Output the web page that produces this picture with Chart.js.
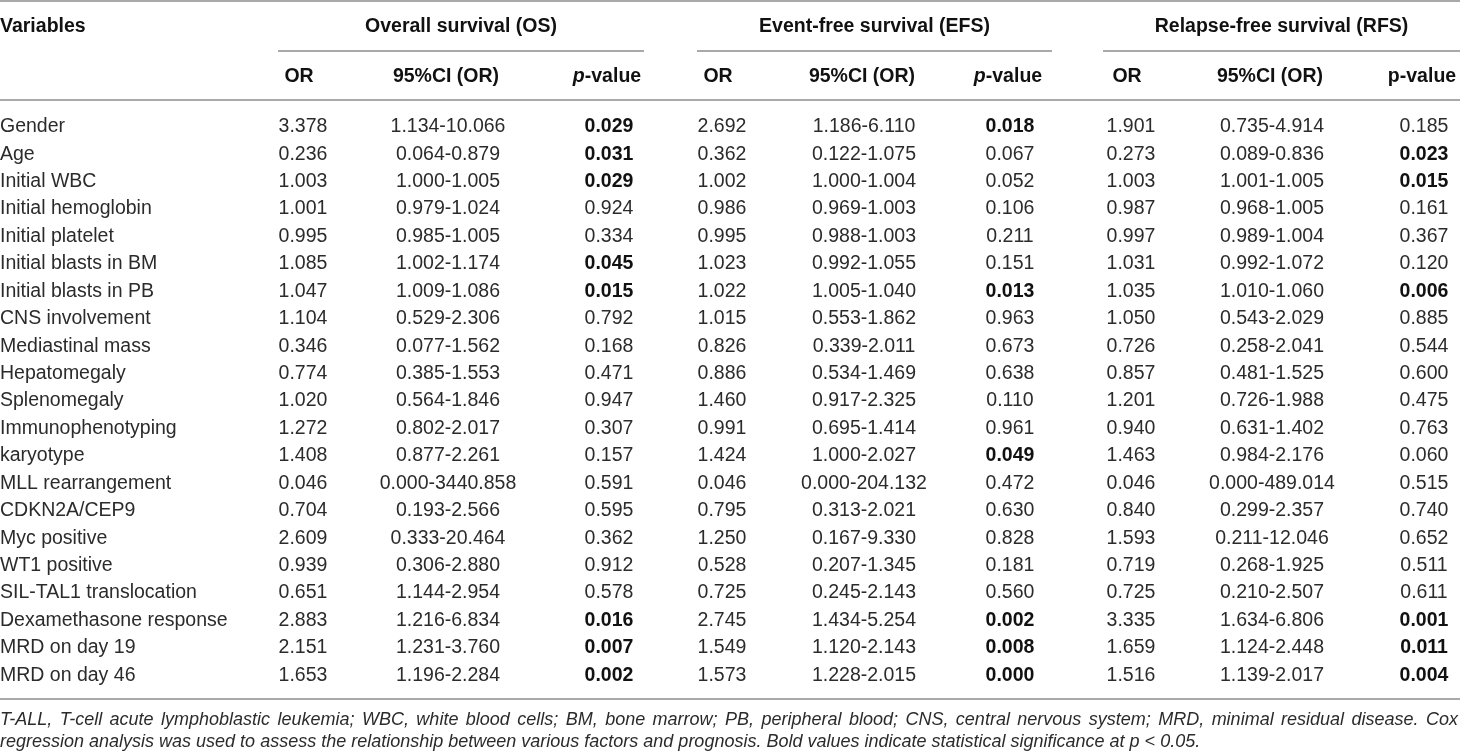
<!DOCTYPE html>
<html>
<head>
<meta charset="utf-8">
<script src="https://cdn.jsdelivr.net/npm/chart.js@4.4.1/dist/chart.umd.min.js"></script>
<style>
  html, body { margin: 0; padding: 0; background: #fff; }
  #wrap { width: 1460px; height: 755px; }
</style>
</head>
<body>
<div id="wrap"><canvas id="tbl" width="1460" height="755"></canvas></div>
<script>
// row labels
const variables = ['Gender', 'Age', 'Initial WBC', 'Initial hemoglobin', 'Initial platelet',
  'Initial blasts in BM', 'Initial blasts in PB', 'CNS involvement', 'Mediastinal mass',
  'Hepatomegaly', 'Splenomegaly', 'Immunophenotyping', 'karyotype', 'MLL rearrangement',
  'CDKN2A/CEP9', 'Myc positive', 'WT1 positive', 'SIL-TAL1 translocation',
  'Dexamethasone response', 'MRD on day 19', 'MRD on day 46'];

// Overall survival
const osOR = [3.378, 0.236, 1.003, 1.001, 0.995, 1.085, 1.047, 1.104, 0.346, 0.774, 1.020,
  1.272, 1.408, 0.046, 0.704, 2.609, 0.939, 0.651, 2.883, 2.151, 1.653];
const osCI = [[1.134, 10.066], [0.064, 0.879], [1.000, 1.005], [0.979, 1.024], [0.985, 1.005],
  [1.002, 1.174], [1.009, 1.086], [0.529, 2.306], [0.077, 1.562], [0.385, 1.553], [0.564, 1.846],
  [0.802, 2.017], [0.877, 2.261], [0.000, 3440.858], [0.193, 2.566], [0.333, 20.464],
  [0.306, 2.880], [1.144, 2.954], [1.216, 6.834], [1.231, 3.760], [1.196, 2.284]];
const osP = [0.029, 0.031, 0.029, 0.924, 0.334, 0.045, 0.015, 0.792, 0.168, 0.471, 0.947,
  0.307, 0.157, 0.591, 0.595, 0.362, 0.912, 0.578, 0.016, 0.007, 0.002];

// Event-free survival
const efsOR = [2.692, 0.362, 1.002, 0.986, 0.995, 1.023, 1.022, 1.015, 0.826, 0.886, 1.460,
  0.991, 1.424, 0.046, 0.795, 1.250, 0.528, 0.725, 2.745, 1.549, 1.573];
const efsCI = [[1.186, 6.110], [0.122, 1.075], [1.000, 1.004], [0.969, 1.003], [0.988, 1.003],
  [0.992, 1.055], [1.005, 1.040], [0.553, 1.862], [0.339, 2.011], [0.534, 1.469], [0.917, 2.325],
  [0.695, 1.414], [1.000, 2.027], [0.000, 204.132], [0.313, 2.021], [0.167, 9.330],
  [0.207, 1.345], [0.245, 2.143], [1.434, 5.254], [1.120, 2.143], [1.228, 2.015]];
const efsP = [0.018, 0.067, 0.052, 0.106, 0.211, 0.151, 0.013, 0.963, 0.673, 0.638, 0.110,
  0.961, 0.049, 0.472, 0.630, 0.828, 0.181, 0.560, 0.002, 0.008, 0.000];

// Relapse-free survival
const rfsOR = [1.901, 0.273, 1.003, 0.987, 0.997, 1.031, 1.035, 1.050, 0.726, 0.857, 1.201,
  0.940, 1.463, 0.046, 0.840, 1.593, 0.719, 0.725, 3.335, 1.659, 1.516];
const rfsCI = [[0.735, 4.914], [0.089, 0.836], [1.001, 1.005], [0.968, 1.005], [0.989, 1.004],
  [0.992, 1.072], [1.010, 1.060], [0.543, 2.029], [0.258, 2.041], [0.481, 1.525], [0.726, 1.988],
  [0.631, 1.402], [0.984, 2.176], [0.000, 489.014], [0.299, 2.357], [0.211, 12.046],
  [0.268, 1.925], [0.210, 2.507], [1.634, 6.806], [1.124, 2.448], [1.139, 2.017]];
const rfsP = [0.185, 0.023, 0.015, 0.161, 0.367, 0.120, 0.006, 0.885, 0.544, 0.600, 0.475,
  0.763, 0.060, 0.515, 0.740, 0.652, 0.511, 0.611, 0.001, 0.011, 0.004];

const groupTitles = ['Overall survival (OS)', 'Event-free survival (EFS)', 'Relapse-free survival (RFS)'];
const footnote = [
  'T-ALL, T-cell acute lymphoblastic leukemia; WBC, white blood cells; BM, bone marrow; PB, peripheral blood; CNS, central nervous system; MRD, minimal residual disease. Cox',
  'regression analysis was used to assess the relationship between various factors and prognosis. Bold values indicate statistical significance at p < 0.05.'
];

// layout (table units = px across the 1460 wide page)
const COL_X = { name: 0, osOR: 303, osCI: 448, osP: 609, efsOR: 722, efsCI: 864, efsP: 1010,
  rfsOR: 1131, rfsCI: 1272, rfsP: 1424 };
const GROUP_SPAN = [[278, 644], [697, 1052], [1103, 1460]];
const FONT = '"Liberation Sans", Arial, Helvetica, sans-serif';
const TEXT = '#2b2b2b';
const BOLD_TEXT = '#111';
const RULE = '#8c8c8c';

const fmt = v => v.toFixed(3);
const fmtCI = c => fmt(c[0]) + '-' + fmt(c[1]);

function column(key, texts, bold, align) {
  return {
    label: key,
    data: texts.map((t, i) => ({ x: COL_X[key], y: variables[i] })),
    cellText: texts,
    cellBold: bold || texts.map(() => false),
    cellAlign: align || 'center',
    pointRadius: 0,
    pointHoverRadius: 0
  };
}

const datasets = [
  column('name', variables, null, 'left'),
  column('osOR', osOR.map(fmt)),
  column('osCI', osCI.map(fmtCI)),
  column('osP', osP.map(fmt), osP.map(p => p < 0.05)),
  column('efsOR', efsOR.map(fmt)),
  column('efsCI', efsCI.map(fmtCI)),
  column('efsP', efsP.map(fmt), efsP.map(p => p < 0.05)),
  column('rfsOR', rfsOR.map(fmt)),
  column('rfsCI', rfsCI.map(fmtCI)),
  column('rfsP', rfsP.map(fmt), rfsP.map(p => p < 0.05))
];

function hline(ctx, x1, x2, y) {
  ctx.beginPath();
  ctx.moveTo(x1, y);
  ctx.lineTo(x2, y);
  ctx.stroke();
}

// bold header "p-value", optionally with an italic p
function drawPValue(ctx, cx, y, italicP) {
  const pf = (italicP ? 'italic ' : '') + 'bold 19.5px ' + FONT;
  const rf = 'bold 19.5px ' + FONT;
  ctx.font = pf;
  const w1 = ctx.measureText('p').width;
  ctx.font = rf;
  const w2 = ctx.measureText('-value').width;
  let x = cx - (w1 + w2) / 2;
  ctx.textAlign = 'left';
  ctx.font = pf;
  ctx.fillText('p', x, y);
  ctx.font = rf;
  ctx.fillText('-value', x + w1, y);
}

const tablePlugin = {
  id: 'tableText',
  afterDatasetsDraw(chart) {
    const ctx = chart.ctx;
    const area = chart.chartArea;
    const xs = chart.scales.x;
    ctx.save();
    ctx.textBaseline = 'middle';

    // body cells
    chart.data.datasets.forEach((ds, di) => {
      const meta = chart.getDatasetMeta(di);
      meta.data.forEach((el, i) => {
        ctx.font = (ds.cellBold[i] ? 'bold ' : '') + '19.5px ' + FONT;
        ctx.fillStyle = ds.cellBold[i] ? BOLD_TEXT : TEXT;
        ctx.textAlign = ds.cellAlign;
        ctx.fillText(ds.cellText[i], el.x, el.y);
      });
    });

    // header
    ctx.fillStyle = BOLD_TEXT;
    const groupY = area.top - 86;
    const subY = area.top - 36;
    ctx.font = 'bold 19.5px ' + FONT;
    ctx.textAlign = 'left';
    ctx.fillText('Variables', xs.getPixelForValue(COL_X.name), groupY);
    ctx.textAlign = 'center';
    GROUP_SPAN.forEach((s, g) => {
      const cx = (xs.getPixelForValue(s[0]) + xs.getPixelForValue(s[1])) / 2;
      ctx.fillText(groupTitles[g], cx, groupY);
    });
    [['osOR', 'osCI', 'osP'], ['efsOR', 'efsCI', 'efsP'], ['rfsOR', 'rfsCI', 'rfsP']].forEach((keys, g) => {
      ctx.font = 'bold 19.5px ' + FONT;
      ctx.textAlign = 'center';
      ctx.fillText('OR', xs.getPixelForValue(COL_X[keys[0]]) - 4, subY);
      ctx.fillText('95%CI (OR)', xs.getPixelForValue(COL_X[keys[1]]) - 2, subY);
      drawPValue(ctx, xs.getPixelForValue(COL_X[keys[2]]) - 2, subY, g < 2);
    });

    // rules
    ctx.strokeStyle = RULE;
    ctx.lineWidth = 1.4;
    hline(ctx, 0, chart.width, 1);
    GROUP_SPAN.forEach(s => hline(ctx, xs.getPixelForValue(s[0]), xs.getPixelForValue(s[1]), area.top - 62));
    hline(ctx, 0, chart.width, area.top - 13);
    hline(ctx, 0, chart.width, area.bottom + 10);

    // footnote, first line justified
    ctx.fillStyle = TEXT;
    ctx.font = 'italic 18px ' + FONT;
    ctx.textAlign = 'left';
    const words = footnote[0].split(' ');
    const widths = words.map(w => ctx.measureText(w).width);
    const total = widths.reduce((a, b) => a + b, 0);
    const gap = (chart.width - 2 - total) / (words.length - 1);
    let x = 0;
    words.forEach((w, i) => {
      ctx.fillText(w, x, area.bottom + 31);
      x += widths[i] + gap;
    });
    ctx.fillText(footnote[1], 0, area.bottom + 53);
    ctx.restore();
  }
};

new Chart(document.getElementById('tbl'), {
  type: 'scatter',
  data: { datasets: datasets },
  options: {
    responsive: false,
    animation: false,
    events: [],
    layout: { padding: { top: 113, bottom: 66, left: 0, right: 0 } },
    plugins: { legend: { display: false }, tooltip: { enabled: false } },
    scales: {
      x: { type: 'linear', min: 0, max: 1460, display: false },
      y: { type: 'category', labels: variables, offset: true, display: false }
    }
  },
  plugins: [tablePlugin]
});
</script>
</body>
</html>
